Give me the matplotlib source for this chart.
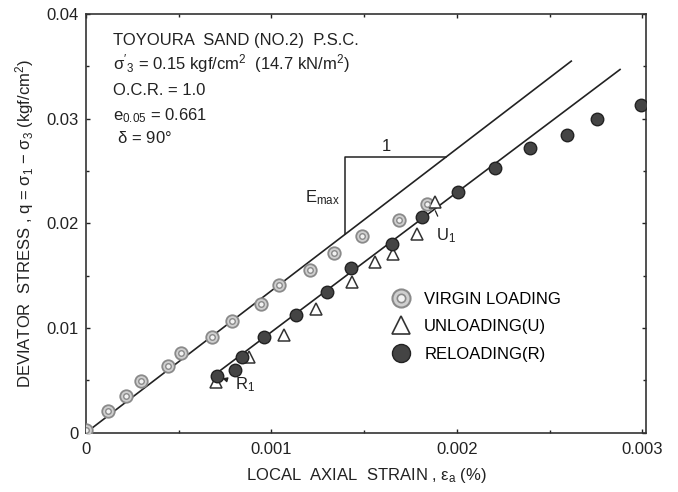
import matplotlib
matplotlib.use("Agg")
import matplotlib.pyplot as plt
from matplotlib.ticker import MultipleLocator
from matplotlib.lines import Line2D

plt.rcParams["font.family"] = ["Liberation Sans", "DejaVu Sans"]
plt.rcParams["mathtext.fontset"] = "custom"
plt.rcParams["mathtext.rm"] = "Liberation Sans"
plt.rcParams["mathtext.it"] = "Liberation Sans"
plt.rcParams["font.size"] = 12

# virgin loading (double circles)
virgin_x = [0.0, 0.000118, 0.000215, 0.000299, 0.000444, 0.000511, 0.000682, 0.000785,
            0.000943, 0.001043, 0.001210, 0.001335, 0.001487, 0.001686, 0.001837]
virgin_y = [0.0003, 0.00204, 0.00354, 0.00491, 0.00634, 0.00763, 0.00919, 0.01072,
            0.01231, 0.01407, 0.01557, 0.01720, 0.01879, 0.02035, 0.02182]

# unloading (open triangles)
unload_x = [0.000699, 0.000878, 0.001066, 0.001242, 0.001433, 0.001560, 0.001658, 0.001783, 0.001882]
unload_y = [0.00481, 0.00720, 0.00938, 0.01184, 0.01438, 0.01630, 0.01710, 0.01895, 0.02204]

# reloading (filled circles)
reload_x = [0.000708, 0.000801, 0.000839, 0.000962, 0.001133, 0.001300, 0.001429, 0.001649,
            0.001810, 0.002007, 0.002204, 0.002392, 0.002593, 0.002754, 0.002993]
reload_y = [0.00541, 0.00603, 0.00727, 0.00912, 0.01129, 0.01349, 0.01572, 0.01799,
            0.02060, 0.02300, 0.02533, 0.02720, 0.02842, 0.02995, 0.03129]

# fitted lines
line_virgin_x = [0.0, 0.002617]
line_virgin_y = [0.0, 0.0355]
line_reload_x = [0.000699, 0.00288]
line_reload_y = [0.00561, 0.0347]

# slope triangle (E_max)
tri_x = [0.001398, 0.001398, 0.001943]
tri_y = [0.01896, 0.02636, 0.02636]

info_lines = [
    "TOYOURA  SAND (NO.2)  P.S.C.",
    r"$\sigma'_3$ = 0.15 kgf/cm$^2$  (14.7 kN/m$^2$)",
    "O.C.R. = 1.0",
    r"e$_{0.05}$ = 0.661",
    r" $\delta$ = 90°",
]
info_y = [0.0375, 0.03531, 0.03273, 0.0303, 0.02815]

fig = plt.figure(figsize=(6.78, 4.92), dpi=100)
ax = fig.add_axes([0.1268, 0.1205, 0.8260, 0.8510])

ink = "#222222"
ax.plot(line_virgin_x, line_virgin_y, color=ink, lw=1.2, zorder=2)
ax.plot(line_reload_x, line_reload_y, color=ink, lw=1.2, zorder=2)
ax.plot(tri_x, tri_y, color=ink, lw=1.1, zorder=2)

ax.plot(virgin_x, virgin_y, "o", ms=9, mfc="#cfcfcf", mec="#8a8a8a", mew=1.3, zorder=3)
ax.plot(virgin_x, virgin_y, "o", ms=4, mfc="#f2f2f2", mec="#8a8a8a", mew=1.0, zorder=4)
ax.plot(unload_x, unload_y, "^", ms=9, mfc="white", mec="#333333", mew=1.1, zorder=3)
ax.plot(reload_x, reload_y, "o", ms=9, mfc="#444444", mec="#222222", mew=1.0, zorder=5)

for txt, yy in zip(info_lines, info_y):
    ax.text(0.000144, yy, txt, ha="left", va="center", color=ink)

ax.text(0.001618, 0.0273, "1", ha="center", va="center", color=ink)
ax.text(0.001274, 0.0225, r"E$_{max}$", ha="center", va="center", color=ink)
ax.annotate(r"U$_1$", xy=(0.001884, 0.0212), xytext=(0.001944, 0.0188),
            ha="center", va="center", color=ink,
            arrowprops=dict(arrowstyle="-", lw=0.9, color=ink, shrinkA=6, shrinkB=0))
ax.annotate(r"R$_1$", xy=(0.000735, 0.0052), xytext=(0.00086, 0.00455),
            ha="center", va="center", color=ink,
            arrowprops=dict(arrowstyle="-|>", lw=0.9, color=ink, mutation_scale=7,
                            shrinkA=7, shrinkB=0))

h_virgin = (Line2D([], [], ls="", marker="o", ms=13, mfc="#cfcfcf", mec="#8a8a8a", mew=1.5),
            Line2D([], [], ls="", marker="o", ms=6, mfc="#f2f2f2", mec="#8a8a8a", mew=1.2))
h_unload = Line2D([], [], ls="", marker="^", ms=13, mfc="white", mec="#333333", mew=1.2)
h_reload = Line2D([], [], ls="", marker="o", ms=13, mfc="#444444", mec="#222222", mew=1.0)
ax.legend([h_virgin, h_unload, h_reload],
          ["VIRGIN LOADING", "UNLOADING(U)", "RELOADING(R)"],
          loc="center left", bbox_to_anchor=(0.540, 0.253), frameon=False,
          borderpad=0, borderaxespad=0, handlelength=1.5, handletextpad=0.65,
          labelspacing=0.75, fontsize=12)

ax.set_xlim(0, 0.00302)
ax.set_ylim(0, 0.04)
ax.xaxis.set_major_locator(MultipleLocator(0.001))
ax.xaxis.set_minor_locator(MultipleLocator(0.0005))
ax.yaxis.set_major_locator(MultipleLocator(0.01))
ax.yaxis.set_minor_locator(MultipleLocator(0.005))
ax.xaxis.set_major_formatter(plt.FuncFormatter(lambda v, p: "0" if v == 0 else f"{v:.3f}"))
ax.yaxis.set_major_formatter(plt.FuncFormatter(lambda v, p: "0" if v == 0 else f"{v:.2f}"))
ax.tick_params(which="both", direction="in", top=True, right=True, color=ink, labelcolor=ink)
ax.tick_params(which="major", length=3, width=1)
ax.tick_params(which="minor", length=2, width=1)
ax.tick_params(axis="x", pad=7)
ax.tick_params(axis="y", pad=5)
for sp in ax.spines.values():
    sp.set_color("#333333")
    sp.set_linewidth(1.2)

ax.set_xlabel(r"LOCAL  AXIAL  STRAIN , $\varepsilon_a$ (%)", color=ink, labelpad=6)
ax.set_ylabel(r"DEVIATOR  STRESS , q = $\sigma_1$ $-$ $\sigma_3$ (kgf/cm$^2$)", color=ink, labelpad=8)

fig.savefig("out.png", dpi=100)
